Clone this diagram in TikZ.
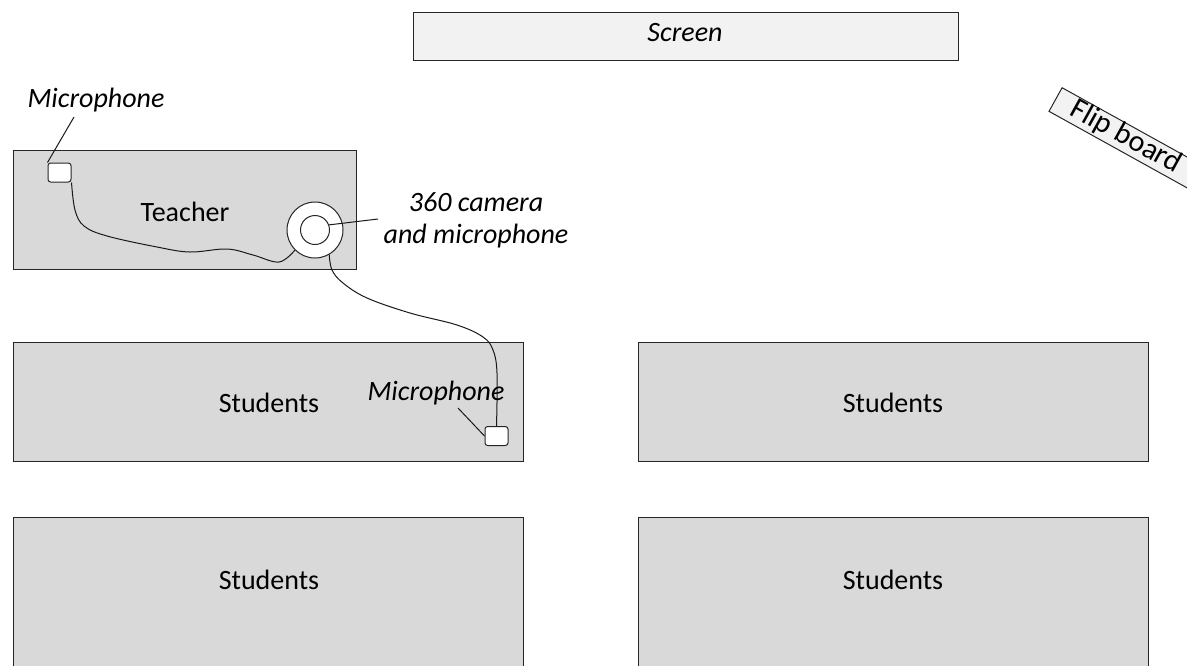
\documentclass[tikz,border=0pt]{standalone}
\usepackage{fontspec}
\setmainfont{Carlito}
\definecolor{deskgray}{HTML}{D9D9D9}
\definecolor{screengray}{HTML}{F2F2F2}
\begin{document}
\begin{tikzpicture}[x=0.75pt,y=-0.75pt,
  every node/.style={font=\fontsize{21}{26}\selectfont, inner sep=0pt},
  desk/.style={draw=black!85, fill=deskgray, line width=0.75pt, minimum width=382.5pt, minimum height=89.25pt},
  micbox/.style={draw=black!85, fill=white, rounded corners=2pt, line width=0.75pt, minimum width=17.25pt, minimum height=14.25pt},
  lbl/.style={font=\fontsize{21}{24}\selectfont\itshape},
  wire/.style={draw=black!90, line width=0.75pt},
]
\useasboundingbox (0,0) rectangle (1187,665);
\begin{scope}
\clip (0,0) rectangle (1187,665);
% screen
\node[draw=black!85, fill=screengray, line width=0.75pt, minimum width=408.75pt, minimum height=36pt] (screen) at (685.5,36) {};
\node[lbl] (screentxt) at (685,33) {Screen};
% flip board
\node[draw=black!85, fill=screengray, line width=0.75pt, rotate=-29, minimum width=150pt, minimum height=20.25pt] (flip) at (1143,148) {};
\node[rotate=-29, font=\fontsize{22.5}{26}\selectfont] (fliptxt) at (1126,137) {Flip board};
% teacher desk
\node[desk, minimum width=257.25pt] (teacher) at (184.5,209.5) {};
\node (teachertxt) at (185,212) {Teacher};
% student desks
\node[desk] (s1) at (268,401.5) {};
\node (s1txt) at (269,403) {Students};
\node[desk] (s2) at (893,401.5) {};
\node (s2txt) at (893,403) {Students};
\node[desk, minimum height=120pt] (s3) at (268,597) {};
\node (s3txt) at (269,580) {Students};
\node[desk, minimum height=120pt] (s4) at (893,597) {};
\node (s4txt) at (893,580) {Students};
% microphones
\node[micbox] (mic1) at (59.5,172.5) {};
\node[micbox] (mic2) at (496.5,436) {};
% camera
\node[circle, draw=black!85, fill=white, line width=0.75pt, minimum size=42pt] (camo) at (315,230) {};
\node[circle, draw=black!85, fill=white, line width=0.75pt, minimum size=21.75pt] (cami) at (315,230) {};
% cables
\draw[wire] plot[smooth, tension=0.6] coordinates {(mic1.south east) (75,210) (84,226) (107,236) (157,247) (190,252) (227,249) (253,255) (279,262) (camo.225)};
\draw[wire] plot[smooth, tension=0.6] coordinates {(camo.-60) (332,270) (343,283) (367,298) (410,313) (457,325) (483,337) (493,350) (497,373) (mic2.north)};
% labels
\node[lbl] (mic1lbl) at (96,100) {Microphone};
\coordinate (mic1pt) at (74,117);
\draw[wire] (mic1pt) -- (mic1.north west);
\node[lbl] (mic2lbl) at (436,393) {Microphone};
\coordinate (mic2pt) at (458,408);
\draw[wire] (mic2pt) -- (mic2.west);
\node[lbl, align=center] (camlbl) at (476,220) {360 camera\\and microphone};
\coordinate (campt) at (378,219);
\draw[wire] (campt) -- (cami.20);
\end{scope}
\end{tikzpicture}
\end{document}
